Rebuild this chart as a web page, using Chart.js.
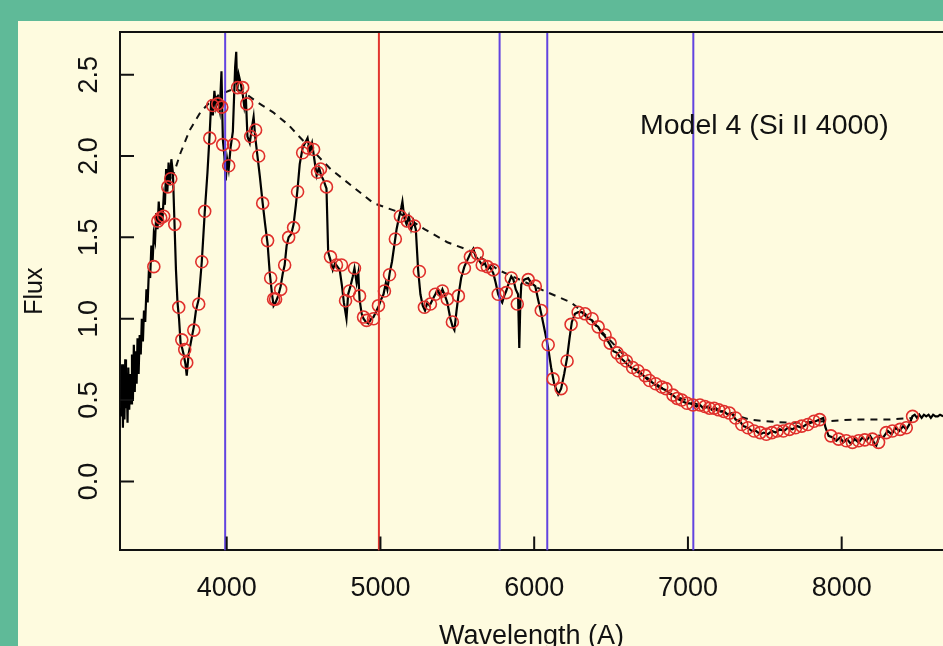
<!DOCTYPE html>
<html>
<head>
<meta charset="utf-8">
<script src="https://cdn.jsdelivr.net/npm/chart.js@4.4.1/dist/chart.umd.min.js"></script>
<style>
  html, body { margin: 0; padding: 0; overflow: hidden; }
  body { width: 943px; height: 646px; background: #5fba98; position: relative; }
  #panel { position: absolute; left: 18px; top: 21px; width: 925px; height: 660px; background: #fefbdf; }
  #chart { display: block; }
</style>
</head>
<body>
<div id="panel"><canvas id="chart" width="925" height="660"></canvas></div>
<script>
// spectre observé (longueur d'onde en A, flux)
const specWave = [3308,3315,3320,3325,3330,3335,3340,3345,3350,3355,3360,3366,3372,3378,3384,3390,3396,3402,3408,3414,
  3420,3427,3434,3441,3448,3455,3462,3470,3478,3486,3494,3502,3510,3518,3526,3534,3542,3550,3558,3566,
  3574,3582,3590,3598,3606,3614,3622,3630,3640,3650,3660,3670,3680,3690,3700,3710,3720,3732,3740,3752,
  3766,3786,3800,3818,3838,3857,3875,3890,3900,3910,3920,3930,3942,3955,3966,3975,3985,3994,4003,4013,
  4025,4040,4055,4062,4068,4078,4090,4104,4115,4125,4135,4150,4165,4175,4185,4200,4215,4234,4250,4266,
  4280,4295,4305,4318,4335,4351,4365,4377,4390,4403,4420,4435,4450,4461,4475,4494,4510,4526,4540,4555,
  4570,4585,4600,4615,4630,4649,4660,4675,4690,4705,4720,4735,4750,4762,4779,4790,4805,4820,4831,4845,
  4856,4864,4878,4890,4905,4922,4940,4955,4975,4990,5005,5020,5035,5045,5060,5075,5090,5105,5120,5135,
  5143,5155,5170,5185,5200,5215,5230,5245,5260,5275,5290,5305,5320,5340,5357,5372,5388,5403,5420,5435,
  5455,5470,5481,5495,5507,5525,5546,5565,5585,5604,5620,5640,5662,5680,5695,5712,5734,5750,5766,5780,
  5792,5805,5818,5835,5851,5865,5880,5895,5903,5910,5916,5935,5961,5980,6007,6025,6046,6070,6091,6110,
  6130,6156,6175,6195,6214,6230,6245,6265,6286,6310,6331,6355,6377,6400,6416,6440,6461,6480,6494,6515,
  6539,6560,6585,6605,6630,6655,6675,6700,6721,6745,6766,6790,6812,6835,6857,6880,6903,6925,6948,6970,
  6994,7015,7033,7055,7078,7100,7130,7155,7182,7210,7234,7260,7286,7310,7338,7360,7390,7415,7442,7470,
  7494,7520,7546,7570,7598,7625,7650,7680,7710,7740,7770,7800,7830,7857,7880,7895,7915,7942,7965,7990,
  8010,8035,8060,8085,8110,8135,8160,8185,8210,8225,8245,8270,8300,8325,8350,8375,8400,8420,8440,8460,
  8475,8490,8505,8520,8535,8550,8565,8580,8595,8610,8625,8640,8660];
const specFlux = [0.45,0.40,0.72,0.33,0.68,0.38,0.75,0.45,0.62,0.36,0.70,0.44,0.66,0.48,0.78,0.50,0.84,0.55,0.80,0.60,
  0.88,0.66,0.90,0.78,1.00,0.86,1.05,0.98,1.18,1.10,1.30,1.25,1.45,1.35,1.52,1.48,1.65,1.55,1.72,1.58,
  1.68,1.60,1.75,1.70,1.92,1.78,1.96,1.82,1.98,1.90,1.60,1.30,1.10,1.00,0.85,0.82,0.78,0.72,0.65,0.78,
  0.85,0.95,1.05,1.12,1.35,1.65,1.90,2.15,2.35,2.25,2.40,2.30,2.35,2.28,2.52,2.10,2.00,1.85,1.98,1.92,
  2.05,2.15,2.55,2.64,2.40,2.50,2.45,2.38,2.30,2.35,2.12,2.08,2.18,2.24,2.12,2.00,1.88,1.71,1.58,1.46,
  1.28,1.15,1.08,1.10,1.14,1.20,1.28,1.33,1.45,1.50,1.52,1.58,1.70,1.80,1.95,2.05,2.08,2.11,2.03,2.08,
  1.98,1.88,1.93,1.88,1.85,1.80,1.41,1.36,1.30,1.34,1.32,1.30,1.20,1.10,1.00,1.15,1.20,1.26,1.31,1.22,
  1.28,1.12,1.03,1.00,0.98,0.97,1.00,1.01,1.05,1.08,1.12,1.15,1.22,1.18,1.28,1.35,1.45,1.55,1.62,1.68,
  1.72,1.62,1.58,1.63,1.55,1.60,1.55,1.30,1.15,1.08,1.05,1.10,1.08,1.12,1.15,1.18,1.14,1.18,1.14,1.10,
  1.00,0.95,0.93,1.05,1.14,1.25,1.32,1.36,1.40,1.43,1.38,1.36,1.33,1.34,1.30,1.32,1.28,1.22,1.15,1.12,
  1.10,1.14,1.17,1.22,1.26,1.24,1.18,1.15,0.82,1.10,1.21,1.24,1.25,1.22,1.20,1.12,1.03,0.92,0.82,0.70,
  0.60,0.535,0.57,0.66,0.76,0.88,0.98,1.03,1.04,1.04,1.02,1.00,0.99,0.96,0.95,0.91,0.89,0.86,0.84,0.80,
  0.79,0.76,0.74,0.72,0.70,0.69,0.67,0.66,0.64,0.62,0.61,0.59,0.58,0.57,0.56,0.54,0.53,0.51,0.50,0.49,
  0.48,0.48,0.47,0.46,0.47,0.45,0.46,0.44,0.45,0.43,0.43,0.41,0.42,0.38,0.37,0.34,0.33,0.31,0.31,0.29,
  0.30,0.29,0.31,0.30,0.32,0.31,0.33,0.32,0.34,0.33,0.35,0.36,0.37,0.38,0.39,0.33,0.28,0.27,0.25,0.27,
  0.24,0.26,0.23,0.26,0.24,0.27,0.25,0.28,0.24,0.22,0.28,0.27,0.31,0.29,0.33,0.31,0.34,0.32,0.35,0.40,
  0.41,0.39,0.41,0.39,0.41,0.40,0.41,0.39,0.41,0.40,0.40,0.41,0.40];

// continuum (pointillés)
const contWave = [3645,3700,3760,3830,3900,3960,4040,4100,4200,4300,4403,4461,4675,4955,5104,5286,5435,5604,5766,6091,
  6240,6331,6500,6700,6900,7100,7300,7400,7500,7663,7900,8072,8300,8461];
const contFlux = [1.86,2.02,2.16,2.27,2.34,2.38,2.41,2.40,2.33,2.27,2.19,2.13,1.92,1.71,1.66,1.55,1.47,1.41,1.30,1.16,
  1.10,1.03,0.86,0.66,0.53,0.46,0.41,0.38,0.37,0.36,0.37,0.38,0.38,0.39];

// points du modèle (cercles rouges)
const circWave = [3526,3552,3571,3590,3617,3636,3662,3688,3708,3727,3740,3786,3818,3838,3857,3890,3909,3942,3968,3974,
  4013,4045,4071,4104,4130,4156,4188,4208,4234,4266,4286,4305,4318,4351,4377,4403,4435,4461,4494,4526,
  4565,4591,4610,4649,4675,4714,4747,4773,4799,4831,4864,4890,4910,4955,4987,5026,5059,5097,5130,5175,
  5221,5253,5286,5325,5357,5403,5435,5468,5507,5546,5585,5630,5662,5695,5734,5766,5818,5851,5890,5961,
  6007,6046,6091,6123,6175,6214,6240,6286,6331,6377,6416,6461,6494,6539,6570,6600,6640,6675,6721,6750,
  6790,6830,6857,6903,6930,6960,6994,7033,7078,7110,7140,7170,7200,7234,7270,7310,7350,7390,7430,7470,
  7510,7546,7580,7620,7660,7700,7740,7780,7820,7857,7930,7980,8030,8070,8110,8150,8200,8240,8290,8330,
  8380,8420,8461];
const circFlux = [1.32,1.60,1.62,1.63,1.81,1.86,1.58,1.07,0.87,0.81,0.73,0.93,1.09,1.35,1.66,2.11,2.31,2.32,2.30,2.07,
  1.94,2.07,2.42,2.42,2.32,2.12,2.16,2.00,1.71,1.48,1.25,1.12,1.12,1.18,1.33,1.50,1.56,1.78,2.02,2.05,
  2.04,1.90,1.92,1.81,1.38,1.33,1.33,1.11,1.17,1.31,1.14,1.01,0.99,1.00,1.08,1.17,1.27,1.49,1.63,1.60,
  1.57,1.29,1.07,1.09,1.15,1.17,1.12,0.98,1.14,1.31,1.38,1.40,1.33,1.32,1.30,1.15,1.16,1.25,1.09,1.24,
  1.20,1.05,0.84,0.63,0.57,0.74,0.965,1.04,1.03,1.00,0.95,0.90,0.85,0.79,0.76,0.74,0.70,0.68,0.65,0.62,
  0.60,0.58,0.57,0.53,0.51,0.50,0.48,0.47,0.47,0.46,0.45,0.45,0.44,0.43,0.42,0.39,0.35,0.33,0.31,0.30,
  0.29,0.30,0.31,0.31,0.32,0.33,0.34,0.35,0.37,0.38,0.28,0.26,0.25,0.24,0.25,0.255,0.26,0.24,0.30,0.31,
  0.32,0.33,0.40];

// raies marquées
const blueLines = [3990, 5775, 6085, 7035];
const redLines = [4990];

const xTicks = [4000, 5000, 6000, 7000, 8000];
const yTicks = [0.0, 0.5, 1.0, 1.5, 2.0, 2.5];
const xMin = 3306, xMax = 8659;
const yMin = -0.424, yMax = 2.762;

const FONT = '"Liberation Sans", Arial, Helvetica, sans-serif';

function toPoints(xs, ys) {
    return xs.map((x, i) => ({ x: x, y: ys[i] }));
}

function vline(x, color) {
    return {
        data: [{ x: x, y: yMin }, { x: x, y: yMax }],
        showLine: true,
        borderColor: color,
        borderWidth: 2,
        pointRadius: 0,
        order: 1
    };
}

// axes à la R : cadre haut, graduations vers l'intérieur, étiquettes verticales
const rAxesPlugin = {
    id: 'rAxes',
    afterDraw(chart) {
        const ctx = chart.ctx;
        const area = chart.chartArea;
        const xs = chart.scales.x;
        const ys = chart.scales.y;
        ctx.save();
        ctx.strokeStyle = '#111';
        ctx.lineWidth = 2;
        ctx.beginPath();
        ctx.moveTo(area.left - 1, area.top);
        ctx.lineTo(area.right, area.top);
        xTicks.forEach(v => {
            const px = xs.getPixelForValue(v);
            ctx.moveTo(px, area.bottom);
            ctx.lineTo(px, area.bottom - 14);
        });
        yTicks.forEach(v => {
            const py = ys.getPixelForValue(v);
            ctx.moveTo(area.left, py);
            ctx.lineTo(area.left + 14, py);
        });
        ctx.stroke();

        ctx.fillStyle = '#111';
        ctx.font = '27px ' + FONT;
        ctx.textAlign = 'center';
        ctx.textBaseline = 'alphabetic';
        yTicks.forEach(v => {
            const py = ys.getPixelForValue(v);
            ctx.save();
            ctx.translate(area.left - 23, py);
            ctx.rotate(-Math.PI / 2);
            ctx.fillText(v.toFixed(1), 0, 0);
            ctx.restore();
        });

        ctx.textAlign = 'left';
        ctx.font = '28.5px ' + FONT;
        ctx.fillText('Model 4 (Si II 4000)', xs.getPixelForValue(6688), ys.getPixelForValue(2.135));
        ctx.restore();
    }
};

const datasets = [
    {
        data: toPoints(circWave, circFlux),
        showLine: false,
        pointStyle: 'circle',
        pointRadius: 6,
        pointBorderWidth: 1.6,
        pointBorderColor: '#e0302c',
        pointBackgroundColor: 'rgba(0,0,0,0)',
        order: 0
    },
    {
        data: toPoints(specWave, specFlux),
        showLine: true,
        borderColor: '#000',
        borderWidth: 2.2,
        pointRadius: 0,
        order: 2
    },
    {
        data: toPoints(contWave, contFlux),
        showLine: true,
        borderColor: '#111',
        borderWidth: 2,
        borderDash: [7, 6],
        pointRadius: 0,
        order: 3
    }
];
blueLines.forEach(x => datasets.push(vline(x, '#6243e0')));
redLines.forEach(x => datasets.push(vline(x, '#e2362f')));

new Chart(document.getElementById('chart').getContext('2d'), {
    type: 'scatter',
    data: { datasets: datasets },
    options: {
        responsive: false,
        animation: false,
        events: [],
        layout: { autoPadding: false, padding: { top: 11, left: 0, right: 0, bottom: 0 } },
        plugins: {
            legend: { display: false },
            tooltip: { enabled: false }
        },
        scales: {
            x: {
                type: 'linear',
                min: xMin,
                max: xMax,
                afterBuildTicks: scale => { scale.ticks = xTicks.map(v => ({ value: v })); },
                afterFit: scale => { scale.height = 130.6; },
                grid: { display: false, drawTicks: false },
                border: { display: true, color: '#111', width: 2 },
                ticks: {
                    color: '#111',
                    font: { family: FONT, size: 27 },
                    padding: 22,
                    maxRotation: 0,
                    callback: v => String(v)
                },
                title: {
                    display: true,
                    text: 'Wavelength (A)',
                    color: '#111',
                    font: { family: FONT, size: 27 },
                    padding: { top: 0, bottom: 28 }
                }
            },
            y: {
                type: 'linear',
                min: yMin,
                max: yMax,
                afterBuildTicks: scale => { scale.ticks = yTicks.map(v => ({ value: v })); },
                afterFit: scale => { scale.width = 102; },
                grid: { display: false, drawTicks: false },
                border: { display: true, color: '#111', width: 2 },
                ticks: { display: false },
                title: {
                    display: true,
                    text: 'Flux',
                    color: '#111',
                    font: { family: FONT, size: 25 },
                    padding: { top: 2, bottom: 0 }
                }
            }
        }
    },
    plugins: [rAxesPlugin]
});
</script>
</body>
</html>
